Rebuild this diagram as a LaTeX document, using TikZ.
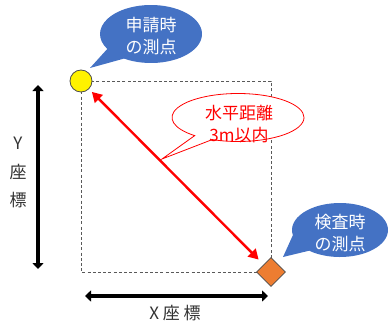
\documentclass[tikz,border=0pt]{standalone}
\usepackage{fontspec}
\setmainfont{Noto Sans CJK JP}
\usetikzlibrary{arrows.meta,shapes.geometric}
\definecolor{cblue}{HTML}{4472C4}
\definecolor{corange}{HTML}{ED7D31}
\definecolor{cred}{HTML}{FF0000}
\definecolor{cgray}{HTML}{595959}
\tikzset{
  calltext/.style={align=center,font=\fontsize{17}{22}\selectfont,inner sep=0pt},
  axislabel/.style={text=black!80,font=\fontsize{17}{18}\selectfont,inner sep=0pt},
  axisarrow/.style={line width=3.8pt,{Triangle[length=6pt,width=11pt]}-{Triangle[length=6pt,width=11pt]}},
  guide/.style={draw=cgray,line width=0.9pt,dash pattern=on 3pt off 2.2pt},
}
\begin{document}
\begin{tikzpicture}[x=1pt,y=1pt]
\useasboundingbox (0,0) rectangle (390,322);
% dashed rectangle
\draw[guide] (81,241) rectangle (271,50);
% callouts
\fill[cblue] (151,288) ++(238:51 and 29) arc[start angle=238,end angle=571,x radius=51,y radius=29] -- (90,254) -- cycle;
\node[calltext,text=white] (t1) at (151,286) {申請時\\の測点};
\fill[cblue] (340,92) ++(230:48 and 27) arc[start angle=230,end angle=551,x radius=48,y radius=27] -- (283,65) -- cycle;
\node[calltext,text=white] (t2) at (340,88.5) {検査時\\の測点};
\draw[cred,fill=white,line width=0.8pt] (238,204.5) ++(247:66 and 24) arc[start angle=247,end angle=589,x radius=66,y radius=24] -- (162,163) -- cycle;
\node[calltext,text=cred] (t3) at (239,198) {水平距離\\3m以内};
% points
\node[circle,draw=black!70,line width=0.8pt,fill=yellow,minimum size=22pt,inner sep=0pt] (p1) at (81,241) {};
\node[diamond,draw=black!70,line width=0.8pt,fill=corange,minimum size=29pt,inner sep=0pt] (p2) at (271,50) {};
% red arrow
\draw[cred,line width=2.4pt,{Triangle[length=10pt,width=11pt]}-{Triangle[length=10pt,width=11pt]},shorten <=4pt,shorten >=7pt] (p1) -- (p2);
% axes
\coordinate (ya) at (38,237);
\coordinate (yb) at (38,53);
\coordinate (xa) at (85,26);
\coordinate (xb) at (268,26);
\draw[axisarrow] (ya) -- (yb);
\draw[axisarrow] (xa) -- (xb);
\node[axislabel] (ly) at (18,179) {Y};
\node[axislabel] (lz) at (18,150) {座};
\node[axislabel] (lh) at (18,122) {標};
\node[axislabel] (lx) at (175,9) {X 座 標};
\end{tikzpicture}
\end{document}
